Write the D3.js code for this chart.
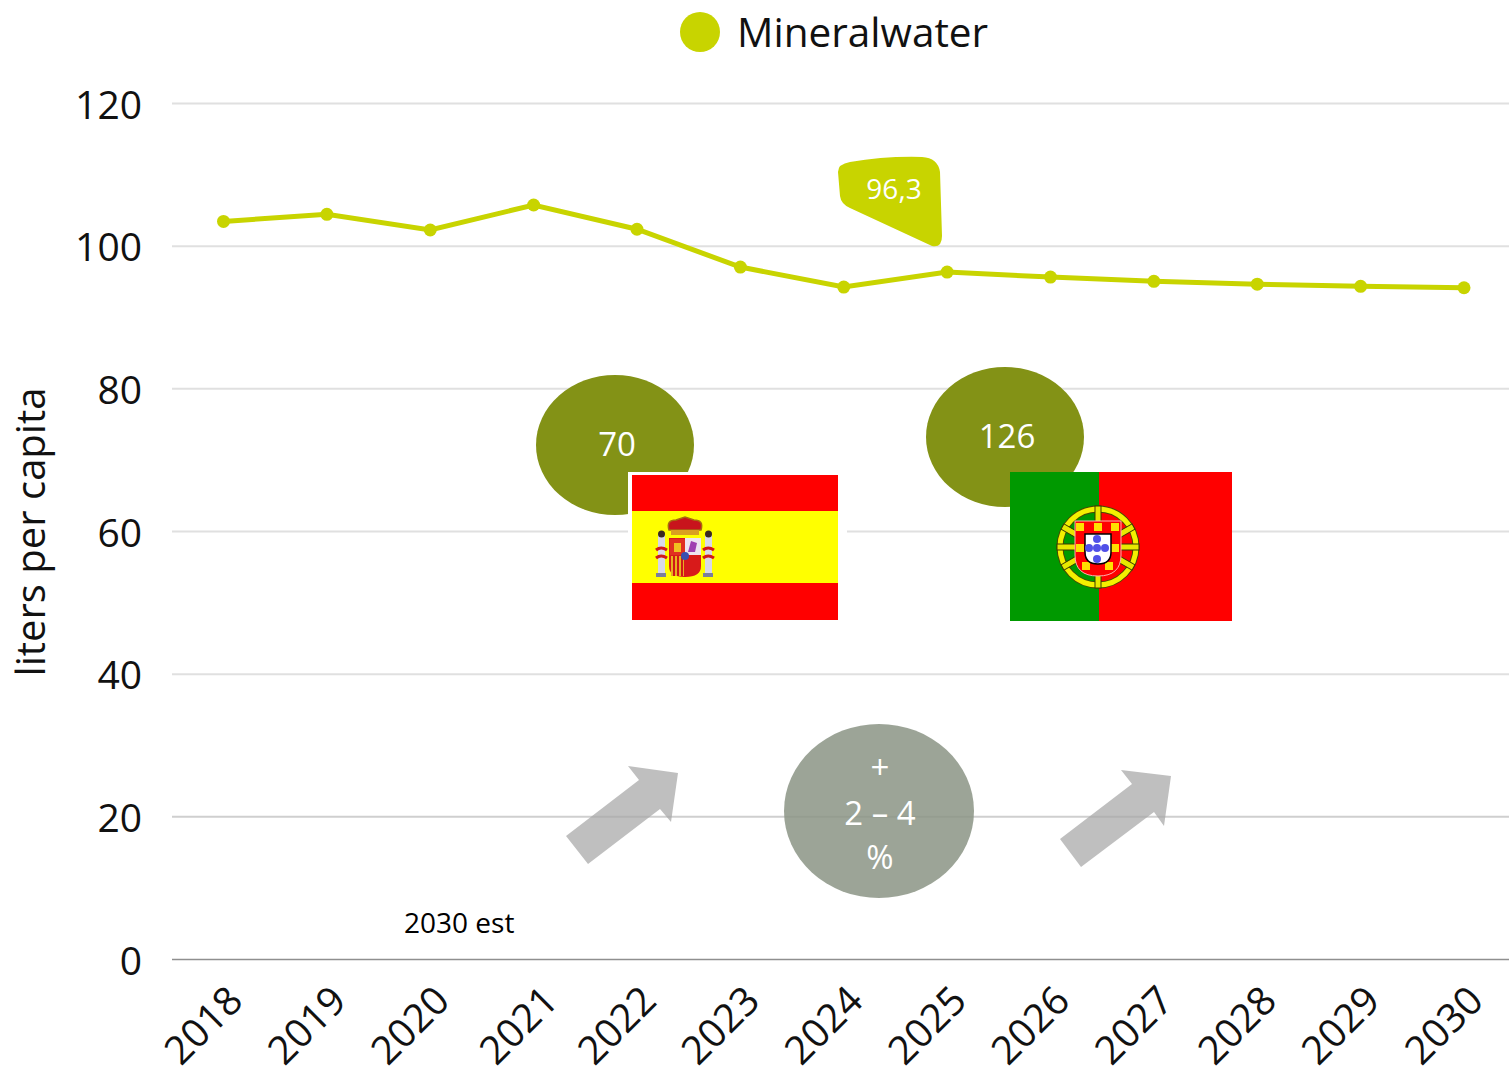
<!DOCTYPE html>
<html>
<head>
<meta charset="utf-8">
<script src="https://cdn.jsdelivr.net/npm/d3@7"></script>
<style>
  body { margin: 0; background: #fff; }
  text { font-family: "Open Sans", sans-serif; }
</style>
</head>
<body>
<div id="chart"></div>
<script>
// Values

var years = [2018, 2019, 2020, 2021, 2022, 2023, 2024, 2025, 2026, 2027, 2028, 2029, 2030];
var mineralwater = [103.4, 104.4, 102.2, 105.7, 102.3, 97.0, 94.2, 96.3, 95.6, 95.0, 94.6, 94.3, 94.1];
var yTicks = [0, 20, 40, 60, 80, 100, 120];

var seriesName = "Mineralwater";
var yTitle = "liters per capita";
var lineColour = "#c8d400";

// margin convention, the plot runs to the right edge of the page

var margin = { top: 103, right: 0, bottom: 112, left: 172 },
    width = 1509 - margin.left - margin.right,
    height = 1071 - margin.top - margin.bottom;

var xScale = d3.scalePoint()
    .domain(years)
    .range([51.5, 1292]);

var yScale = d3.scaleLinear()
    .domain([0, 120])
    .range([height, 0]);

var root = d3.select("#chart").append("svg")
    .attr("width", 1509)
    .attr("height", 1071)
    .style("display", "block");

var svg = root.append("g")
    .attr("transform", "translate(" + margin.left + "," + margin.top + ")");

// grid and axes

svg.append("g")
    .selectAll("line")
    .data(yTicks)
  .enter().append("line")
    .attr("x1", 0)
    .attr("x2", width)
    .attr("y1", function(d) { return yScale(d) + 0.5; })
    .attr("y2", function(d) { return yScale(d) + 0.5; })
    .attr("stroke", function(d) { return d === 0 ? "#8f8f8f" : d === 20 ? "#cfcfcf" : "#e0e0e0"; })
    .attr("stroke-width", function(d) { return d === 0 ? 1.5 : 2; });

var yAxis = svg.append("g")
    .call(d3.axisLeft(yScale).tickValues(yTicks).tickSize(0).tickPadding(30));
yAxis.select(".domain").remove();
yAxis.selectAll("text")
    .attr("fill", "#111")
    .attr("dy", "0.39em")
    .style("font-size", "39px");

var xAxis = svg.append("g")
    .attr("transform", "translate(0," + height + ")")
    .call(d3.axisBottom(xScale).tickSize(0));
xAxis.select(".domain").remove();

// 2021 sits a little further right than the others in the original
xAxis.selectAll("text")
    .attr("fill", "#111")
    .attr("text-anchor", "end")
    .attr("y", 0)
    .attr("dy", 0)
    .attr("transform", function(d) { return "translate(" + (d === 2021 ? 26 : 21) + ",44) rotate(-45)"; })
    .style("font-size", "39.5px");

root.append("text")
    .attr("transform", "translate(45,532) rotate(-90)")
    .attr("text-anchor", "middle")
    .attr("fill", "#111")
    .style("font-size", "40px")
    .text(yTitle);

// legend

root.append("circle")
    .attr("cx", 700)
    .attr("cy", 32)
    .attr("r", 20)
    .attr("fill", lineColour);

root.append("text")
    .attr("x", 737)
    .attr("y", 47)
    .attr("fill", "#111")
    .style("font-size", "40.5px")
    .text(seriesName);

// the series

var line = d3.line()
    .x(function(d, i) { return xScale(years[i]); })
    .y(function(d) { return yScale(d); });

svg.append("path")
    .datum(mineralwater)
    .attr("fill", "none")
    .attr("stroke", lineColour)
    .attr("stroke-width", 5)
    .attr("d", line);

svg.append("g")
    .selectAll("circle")
    .data(mineralwater)
  .enter().append("circle")
    .attr("cx", function(d, i) { return xScale(years[i]); })
    .attr("cy", function(d) { return yScale(d); })
    .attr("r", 6.5)
    .attr("fill", lineColour);

// pasted-on annotations, in page pixels

root.append("path")
    .attr("d", "M838,172 Q838,164 850,162 Q885,156 922,157 Q938,158 940,172 L942,236 Q942,248 932,246 L850,208 Q841,204 840,196 Z")
    .attr("fill", lineColour);

label(894, 199, "96,3", 28);

root.append("ellipse")
    .attr("cx", 615).attr("cy", 445).attr("rx", 79).attr("ry", 70)
    .attr("fill", "#839216");
label(617, 456, "70", 33);

root.append("ellipse")
    .attr("cx", 1005).attr("cy", 437).attr("rx", 79).attr("ry", 70)
    .attr("fill", "#839216");
label(1007, 448, "126", 33);

root.append("rect")
    .attr("x", 628).attr("y", 472).attr("width", 219).attr("height", 151)
    .attr("fill", "#fff");

drawSpain();
drawPortugal();

arrow("566,836 639,780 628,766 678,773 671,822 660,809 588,864");
arrow("1060,839 1132,784 1121,770 1171,776 1164,826 1154,812 1081,867");

root.append("ellipse")
    .attr("cx", 879).attr("cy", 811).attr("rx", 95).attr("ry", 87)
    .attr("fill", "#8b9485")
    .attr("fill-opacity", 0.85);
label(880, 779, "+", 33);
label(880, 825, "2 – 4", 33);
label(880, 869, "%", 33);

root.append("text")
    .attr("x", 404)
    .attr("y", 933)
    .attr("fill", "#000")
    .style("font-size", "28px")
    .text("2030 est");

function label(x, y, text, size) {
  root.append("text")
      .attr("x", x)
      .attr("y", y)
      .attr("text-anchor", "middle")
      .attr("fill", "#fff")
      .style("font-size", size + "px")
      .text(text);
}

function arrow(points) {
  root.append("polygon")
      .attr("points", points)
      .attr("fill", "#a6a6a6")
      .attr("fill-opacity", 0.72);
}

function block(g, x, y, w, h, fill) {
  return g.append("rect")
      .attr("x", x).attr("y", y).attr("width", w).attr("height", h)
      .attr("fill", fill);
}

function drawSpain() {
  var g = root.append("g");
  block(g, 632, 475, 206, 145, "#ff0000");
  block(g, 632, 511, 206, 72, "#ffff00");

  // pillars
  [661, 708].forEach(function(x) {
    block(g, x - 3, 534, 7, 40, "#d8d8e8");
    block(g, x - 5, 573, 10, 4, "#7a7f9a");
    g.append("circle").attr("cx", x + 0.5).attr("cy", 534).attr("r", 3.5).attr("fill", "#3a2a20");
    g.append("path")
        .attr("d", "M" + (x - 5) + ",550 Q" + x + ",546 " + (x + 6) + ",550 M" + (x - 5) + ",558 Q" + x + ",554 " + (x + 6) + ",558")
        .attr("fill", "none").attr("stroke", "#d01818").attr("stroke-width", 3);
  });

  // crown
  g.append("path")
      .attr("d", "M669,530 Q666,520 676,520 L685,517 L694,520 Q704,520 701,530 Z")
      .attr("fill", "#c8141c").attr("stroke", "#a86a10").attr("stroke-width", 1.5);
  block(g, 671, 530, 28, 5, "#d9a020");

  // shield quarters
  g.append("path")
      .attr("d", "M669,538 H701 V566 Q701,577 685,577 Q669,577 669,566 Z")
      .attr("fill", "#d81a1a");
  block(g, 670, 539, 15, 16, "#e03020");
  block(g, 685, 538, 16, 17, "#eee4f0");
  g.append("path").attr("d", "M688,552 L691,541 L697,543 L695,552 Z").attr("fill", "#a040b0");
  block(g, 674, 543, 7, 9, "#f0c020");
  block(g, 671, 556, 13, 20, "#e8b020");
  [673, 677, 681].forEach(function(x) { block(g, x, 556, 2, 20, "#d01818"); });
  g.append("circle").attr("cx", 685).attr("cy", 556).attr("r", 4).attr("fill", "#3a50b0");
}

function drawPortugal() {
  var g = root.append("g"), cx = 1098, cy = 547;
  block(g, 1010, 472, 89, 149, "#009900");
  block(g, 1099, 472, 133, 149, "#ff0000");

  // armillary sphere
  g.append("circle").attr("cx", cx).attr("cy", cy).attr("r", 38)
      .attr("fill", "none").attr("stroke", "#4a4a00").attr("stroke-width", 7);
  g.append("circle").attr("cx", cx).attr("cy", cy).attr("r", 38)
      .attr("fill", "none").attr("stroke", "#f4f000").attr("stroke-width", 5);
  [0, 30, -30, 90].forEach(function(a) {
    g.append("rect")
        .attr("x", cx - 41).attr("y", cy - 3).attr("width", 82).attr("height", 6)
        .attr("fill", "#e8e800").attr("stroke", "#3a3a00").attr("stroke-width", 1)
        .attr("transform", "rotate(" + a + " " + cx + " " + cy + ")");
  });

  // shield
  g.append("path")
      .attr("d", "M1075,521 H1121 V555 Q1121,576 1098,576 Q1075,576 1075,555 Z")
      .attr("fill", "#ff0000").attr("stroke", "#ffb0b0").attr("stroke-width", 1);
  [[1080, 527], [1098, 527], [1115, 527], [1080, 548], [1115, 548], [1086, 566], [1109, 566]].forEach(function(p) {
    block(g, p[0] - 4, p[1] - 4, 8, 8, "#ffe000");
  });
  g.append("path")
      .attr("d", "M1085,534 H1111 V552 Q1111,564 1098,564 Q1085,564 1085,552 Z")
      .attr("fill", "#fff").attr("stroke", "#000").attr("stroke-width", 1.5);
  [[1097, 539], [1097, 559], [1089, 548], [1097, 548], [1105, 548]].forEach(function(p) {
    g.append("circle").attr("cx", p[0]).attr("cy", p[1]).attr("r", 4).attr("fill", "#5050e8");
  });
}
</script>
</body>
</html>
